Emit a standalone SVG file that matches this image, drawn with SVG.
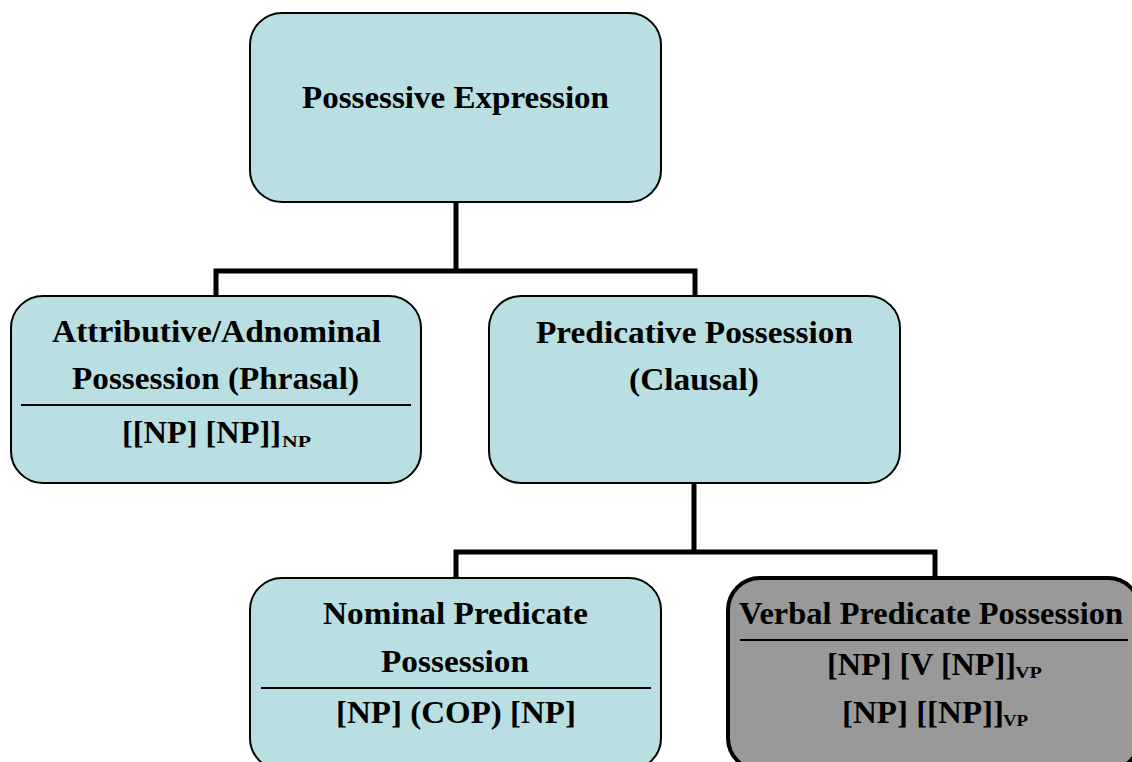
<svg xmlns="http://www.w3.org/2000/svg" width="1132" height="762" viewBox="0 0 1132 762">
<style>
.box{fill:#B9DFE2;stroke:#000;stroke-width:2}
.gray{fill:#999999;stroke:#000;stroke-width:4}
.t{font-family:"Liberation Serif","Times New Roman",serif;font-weight:bold;font-size:31px;fill:#000}
.sub{font-size:17px}
.div{stroke:#000;stroke-width:2}
.conn{fill:none;stroke:#000;stroke-width:5}
</style>
<rect width="1132" height="762" fill="#fff"/>
<g id="connectors">
<path class="conn" d="M456 202 V271 M216 296 V271 H695 V296"/>
<path class="conn" d="M694 483 V552 M456 578 V552 H935 V577"/>
</g>
<g id="root">
<rect class="box" x="250" y="13" width="411" height="189" rx="32"/>
<text class="t" x="302" y="108" textLength="307" lengthAdjust="spacingAndGlyphs">Possessive Expression</text>
</g>
<g id="attributive">
<rect class="box" x="11" y="296" width="410" height="187" rx="32"/>
<text class="t" x="52" y="342" textLength="329" lengthAdjust="spacingAndGlyphs">Attributive/Adnominal</text>
<text class="t" x="72" y="389" textLength="287" lengthAdjust="spacingAndGlyphs">Possession (Phrasal)</text>
<line class="div" x1="21" y1="405" x2="411" y2="405"/>
<text class="t" x="122" y="443" textLength="159" lengthAdjust="spacingAndGlyphs">[[NP] [NP]]</text>
<text class="t sub" x="282" y="447" textLength="29" lengthAdjust="spacingAndGlyphs">NP</text>
</g>
<g id="predicative">
<rect class="box" x="489" y="296" width="411" height="187" rx="32"/>
<text class="t" x="536" y="343" textLength="317" lengthAdjust="spacingAndGlyphs">Predicative Possession</text>
<text class="t" x="629" y="390" textLength="130" lengthAdjust="spacingAndGlyphs">(Clausal)</text>
</g>
<g id="nominal">
<rect class="box" x="250" y="578" width="411" height="192" rx="32"/>
<text class="t" x="323" y="624" textLength="265" lengthAdjust="spacingAndGlyphs">Nominal Predicate</text>
<text class="t" x="381" y="672" textLength="148" lengthAdjust="spacingAndGlyphs">Possession</text>
<line class="div" x1="261" y1="688" x2="651" y2="688"/>
<text class="t" x="336" y="723" textLength="240" lengthAdjust="spacingAndGlyphs">[NP] (COP) [NP]</text>
</g>
<g id="verbal">
<rect class="gray" x="728" y="578" width="412" height="192" rx="32"/>
<text class="t" x="739" y="624" textLength="384" lengthAdjust="spacingAndGlyphs">Verbal Predicate Possession</text>
<line class="div" x1="740" y1="640" x2="1128" y2="640"/>
<text class="t" x="827" y="675" textLength="189" lengthAdjust="spacingAndGlyphs">[NP] [V [NP]]</text>
<text class="t sub" x="1015" y="678" textLength="27" lengthAdjust="spacingAndGlyphs">VP</text>
<text class="t" x="842" y="723" textLength="162" lengthAdjust="spacingAndGlyphs">[NP] [[NP]]</text>
<text class="t sub" x="1003" y="726" textLength="25" lengthAdjust="spacingAndGlyphs">VP</text>
</g>
</svg>
